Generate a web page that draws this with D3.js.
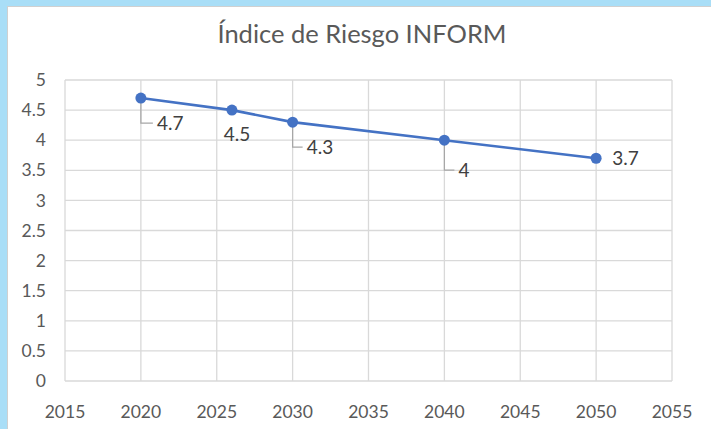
<!DOCTYPE html>
<html lang="es">
<head>
<meta charset="UTF-8">
<title>Índice de Riesgo INFORM</title>
<script src="https://d3js.org/d3.v7.min.js"></script>
<style>
  body { margin: 0; background: #a9def7; }
  svg { display: block; }
  .grid line { stroke: #d9d9d9; stroke-width: 1.3; }
  .tick-label { font-family: Lato, "Open Sans", sans-serif; font-size: 17.5px; fill: #595959; }
  .data-label { font-family: Lato, "Open Sans", sans-serif; font-size: 19px; fill: #404040; }
</style>
</head>
<body>
<svg id="chart" width="711" height="429"></svg>
<script>
// data
const years = [2020, 2026, 2030, 2040, 2050];
const riskValues = [4.7, 4.5, 4.3, 4, 3.7];
const xTicks = [2015, 2020, 2025, 2030, 2035, 2040, 2045, 2050, 2055];
const yTicks = [0, 0.5, 1, 1.5, 2, 2.5, 3, 3.5, 4, 4.5, 5];
const chartTitle = 'Índice de Riesgo INFORM';

// label placement per point: dx, dy of leader corner / label (layout only)
const labelLayout = [
  { leader: true, dy: 25, dx: 12 },
  { leader: false, dy: 24, dx: 5 },
  { leader: true, dy: 25, dx: 10 },
  { leader: true, dy: 30, dx: 10 },
  { leader: false, dy: 0, dx: 16 }
];

const svg = d3.select('#chart');
const W = 711, H = 429;

// white chart area
svg.append('rect')
  .attr('x', 7.5).attr('y', 6.5)
  .attr('width', W).attr('height', H)
  .attr('fill', '#fff')
  .attr('stroke', '#d0d0d0');

const plotL = 65, plotR = 672, plotT = 80, plotB = 381;

const x = d3.scaleLinear().domain([2015, 2055]).range([plotL, plotR]);
const y = d3.scaleLinear().domain([0, 5]).range([plotB, plotT]);

// grid
const grid = svg.append('g').attr('class', 'grid');
grid.selectAll('.h').data(yTicks).join('line')
  .attr('x1', plotL).attr('x2', plotR)
  .attr('y1', d => y(d)).attr('y2', d => y(d));
grid.selectAll('.v').data(xTicks).join('line')
  .attr('y1', plotT).attr('y2', plotB)
  .attr('x1', d => x(d)).attr('x2', d => x(d));

// axis labels
svg.append('g').selectAll('text').data(yTicks).join('text')
  .attr('class', 'tick-label')
  .attr('x', 46)
  .attr('y', d => y(d))
  .attr('dy', '0.35em')
  .attr('text-anchor', 'end')
  .text(d => d);

svg.append('g').selectAll('text').data(xTicks).join('text')
  .attr('class', 'tick-label')
  .attr('x', d => x(d))
  .attr('y', 418)
  .attr('text-anchor', 'middle')
  .text(d => d);

// title
svg.append('text')
  .attr('x', 362)
  .attr('y', 43)
  .attr('text-anchor', 'middle')
  .style('font-family', 'Lato, "Open Sans", sans-serif')
  .style('font-size', '25.5px')
  .style('fill', '#595959')
  .text(chartTitle);

const pts = years.map((yr, i) => ({ yr, v: riskValues[i], lay: labelLayout[i] }));

// line
const line = d3.line().x(d => x(d.yr)).y(d => y(d.v));
svg.append('path')
  .datum(pts)
  .attr('d', line)
  .attr('fill', 'none')
  .attr('stroke', '#4472c4')
  .attr('stroke-width', 2.6);

// leader lines
svg.append('g').selectAll('path').data(pts.filter(d => d.lay.leader)).join('path')
  .attr('d', d => {
    const px = x(d.yr), py = y(d.v);
    return `M${px},${py}V${py + d.lay.dy}H${px + d.lay.dx}`;
  })
  .attr('fill', 'none')
  .attr('stroke', '#a6a6a6')
  .attr('stroke-width', 1.2);

// markers
svg.append('g').selectAll('circle').data(pts).join('circle')
  .attr('cx', d => x(d.yr))
  .attr('cy', d => y(d.v))
  .attr('r', 5.5)
  .attr('fill', '#4472c4');

// data labels
svg.append('g').selectAll('text').data(pts).join('text')
  .attr('class', 'data-label')
  .attr('x', d => {
    const px = x(d.yr);
    if (d.lay.leader) return px + d.lay.dx + 4;
    return px + d.lay.dx;
  })
  .attr('y', d => y(d.v) + d.lay.dy)
  .attr('dy', '0.35em')
  .attr('text-anchor', d => (d.lay.leader || d.lay.dx > 10) ? 'start' : 'middle')
  .text(d => d.v);
</script>
</body>
</html>
